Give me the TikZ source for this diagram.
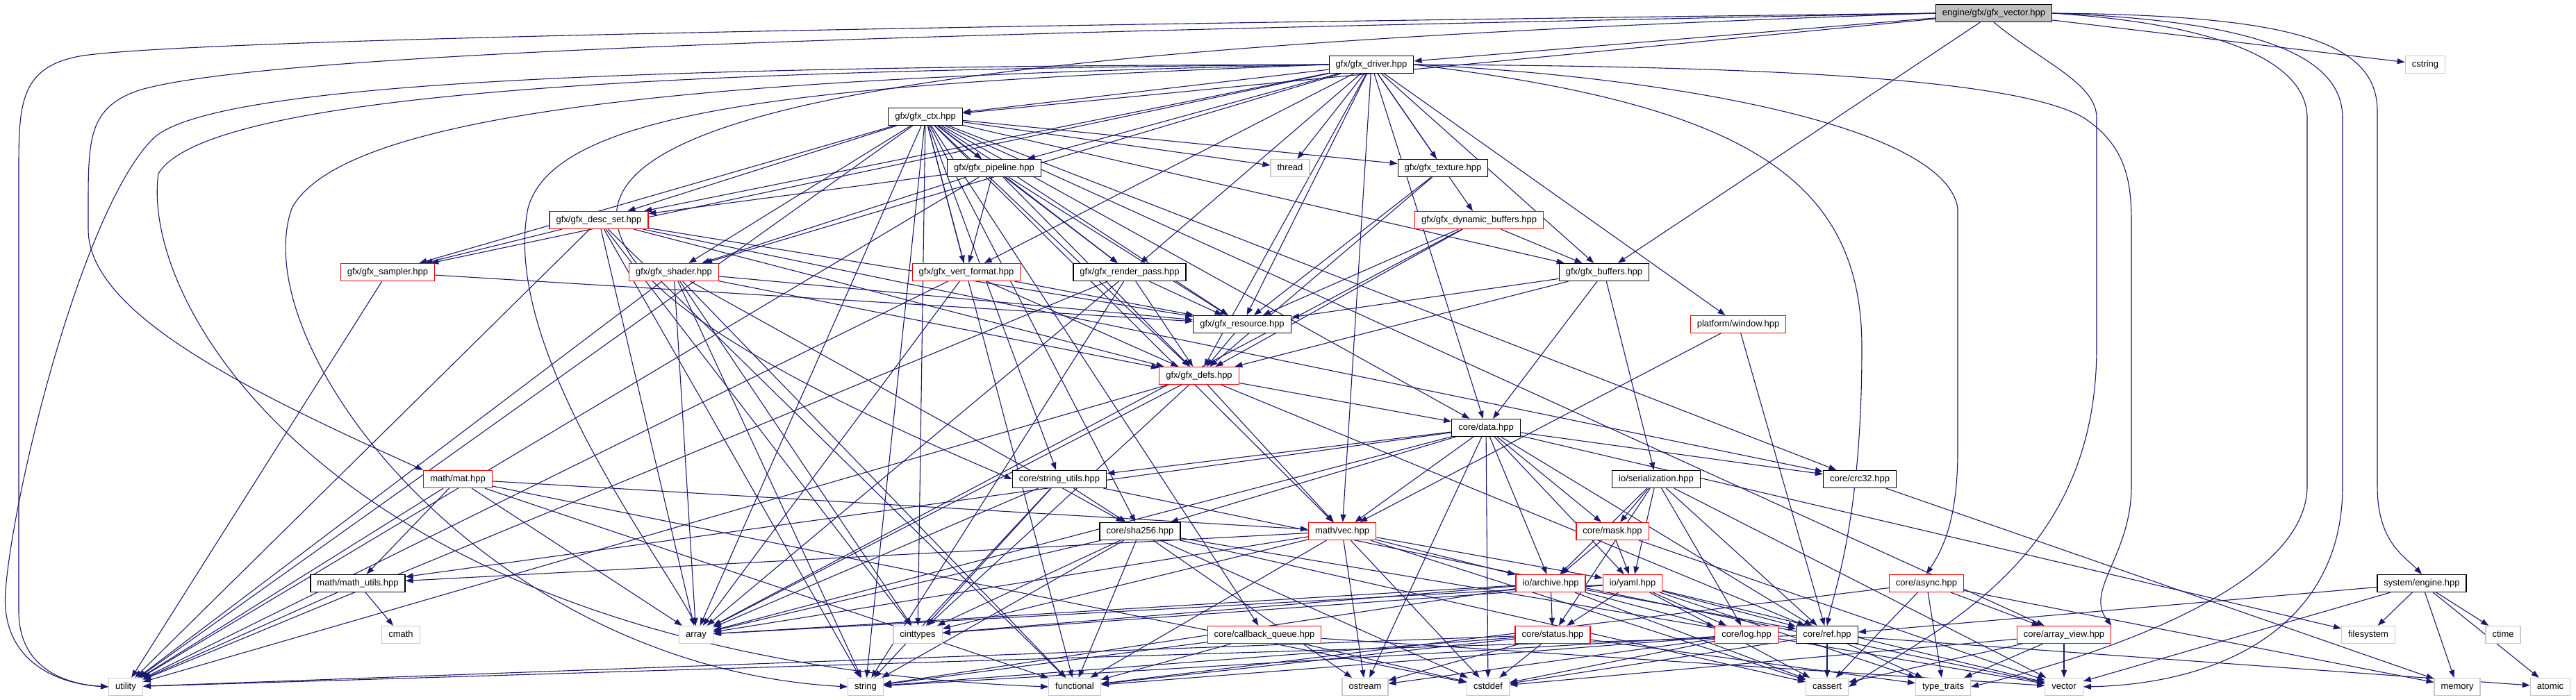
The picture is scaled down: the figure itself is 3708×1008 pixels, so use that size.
\documentclass[tikz,border=0pt]{standalone}
\usepackage{fontspec}
\setmainfont{Liberation Sans}
\usetikzlibrary{arrows.meta}
\definecolor{edgec}{HTML}{191970}
\definecolor{extb}{HTML}{C8C8C8}
\definecolor{rootf}{HTML}{BFBFBF}
\pgfdeclarelayer{edges}
\pgfsetlayers{edges,main}
\begin{document}
\begin{tikzpicture}[x=1pt,y=-1pt,
  font=\fontsize{13}{15}\selectfont,
  nb/.style={draw, line width=1.3pt, fill=white, inner xsep=9.5pt, inner ysep=0pt, minimum height=25pt, text height=9.5pt, text depth=3pt},
  bnode/.style={nb, draw=black},
  rnode/.style={nb, draw=red},
  gnode/.style={nb, draw=extb},
  rootnode/.style={nb, draw=black, fill=rootf},
  e/.style={draw=edgec, line width=1.1pt, -{Triangle[length=11pt,width=8pt]}}]
\useasboundingbox (0,0) rectangle (3708,1008);
% nodes
\node[rootnode] (vecroot) at (2870,19) {engine/gfx/gfx\_vector.hpp};
\node[bnode] (driver) at (1974,93) {gfx/gfx\_driver.hpp};
\node[gnode] (cstring) at (3491,93) {cstring};
\node[bnode] (ctx) at (1332,168) {gfx/gfx\_ctx.hpp};
\node[bnode] (pipeline) at (1431,242) {gfx/gfx\_pipeline.hpp};
\node[gnode] (thread) at (1857,242) {thread};
\node[bnode] (texture) at (2077,242) {gfx/gfx\_texture.hpp};
\node[rnode] (descset) at (862,317) {gfx/gfx\_desc\_set.hpp};
\node[rnode] (dynbuf) at (2129,317) {gfx/gfx\_dynamic\_buffers.hpp};
\node[rnode] (sampler) at (558,392) {gfx/gfx\_sampler.hpp};
\node[rnode] (shader) at (970,392) {gfx/gfx\_shader.hpp};
\node[rnode] (vertfmt) at (1391,392) {gfx/gfx\_vert\_format.hpp};
\node[bnode] (renderpass) at (1626,392) {gfx/gfx\_render\_pass.hpp};
\node[bnode] (buffers) at (2309,392) {gfx/gfx\_buffers.hpp};
\node[bnode] (resource) at (1788,467) {gfx/gfx\_resource.hpp};
\node[rnode] (window) at (2502,467) {platform/window.hpp};
\node[rnode] (defs) at (1726,541) {gfx/gfx\_defs.hpp};
\node[bnode] (data) at (2139,616) {core/data.hpp};
\node[rnode] (mat) at (659,690) {math/mat.hpp};
\node[bnode] (stringutils) at (1525,690) {core/string\_utils.hpp};
\node[bnode] (serialization) at (2384,690) {io/serialization.hpp};
\node[bnode] (crc32) at (2677,690) {core/crc32.hpp};
\node[bnode] (sha256) at (1641,765) {core/sha256.hpp};
\node[rnode] (mvec) at (1932,765) {math/vec.hpp};
\node[rnode] (mask) at (2321,765) {core/mask.hpp};
\node[bnode] (mathutils) at (515,840) {math/math\_utils.hpp};
\node[rnode] (archive) at (2232,840) {io/archive.hpp};
\node[rnode] (yaml) at (2350,840) {io/yaml.hpp};
\node[rnode] (async) at (2773,840) {core/async.hpp};
\node[bnode] (engine) at (3486,840) {system/engine.hpp};
\node[gnode] (cmath) at (577,914) {cmath};
\node[gnode] (array) at (1002,914) {array};
\node[gnode] (cinttypes) at (1321,914) {cinttypes};
\node[rnode] (callbackq) at (1820,914) {core/callback\_queue.hpp};
\node[rnode] (status) at (2235,914) {core/status.hpp};
\node[rnode] (log) at (2514,914) {core/log.hpp};
\node[bnode] (ref) at (2630,914) {core/ref.hpp};
\node[rnode] (arrayview) at (2971,914) {core/array\_view.hpp};
\node[gnode] (filesystem) at (3409,914) {filesystem};
\node[gnode] (ctime) at (3603,914) {ctime};
\node[gnode] (utility) at (181,989) {utility};
\node[gnode] (string) at (1246,989) {string};
\node[gnode] (functional) at (1547,989) {functional};
\node[gnode] (ostream) at (1965,989) {ostream};
\node[gnode] (cstddef) at (2142,989) {cstddef};
\node[gnode] (cassert) at (2630,989) {cassert};
\node[gnode] (typetraits) at (2797,989) {type\_traits};
\node[gnode] (vector) at (2971,989) {vector};
\node[gnode] (memory) at (3537,989) {memory};
\node[gnode] (atomic) at (3671,989) {atomic};
\begin{pgfonlayer}{edges}
% routed edges of the root
\draw[e] (vecroot.west) .. controls (1500,35) and (300,55) .. (120,80) .. controls (27,95) and (27,150) .. (27,250) -- (27,880) .. controls (27,960) and (90,985) .. (utility.west);
\draw[e] (vecroot.west) .. controls (1500,45) and (400,70) .. (200,130) .. controls (127,155) and (127,200) .. (127,300) -- (127,330) .. controls (127,450) and (350,560) .. (mat.north west);
\draw[e] (vecroot.east) .. controls (3300,22) and (3422,60) .. (3422,160) -- (3422,700) .. controls (3422,780) and (3460,800) .. (engine.north);
\draw[e] (vecroot.east) .. controls (3200,35) and (3321,90) .. (3321,170) -- (3321,700) .. controls (3321,850) and (3000,950) .. (typetraits.east);
\draw[e] (vecroot.east) .. controls (3250,30) and (3372,80) .. (3372,170) -- (3372,700) .. controls (3372,900) and (3200,985) .. (vector.east);
\draw[e] (vecroot.south) .. controls (2940,90) and (3018,120) .. (3018,170) -- (3018,500) .. controls (3018,800) and (2800,900) .. (cassert.east);
\draw[e] (vecroot) -- (cstring);
\draw[e] (vecroot) -- (driver);
\draw[e] (vecroot) -- (ctx);
\draw[e] (vecroot) -- (buffers);
\draw[e] (vecroot.west) .. controls (1000,80) and (300,200) .. (stringutils.west);
% routed edges of the driver
\draw[e] (driver.west) .. controls (900,95) and (300,120) .. (220,200) .. controls (120,300) and (20,700) .. (8,850) .. controls (0,950) and (80,985) .. (utility.west);
\draw[e] (driver.west) .. controls (1000,100) and (300,130) .. (228,250) .. controls (200,450) and (500,950) .. (functional.west);
\draw[e] (driver.west) .. controls (1100,110) and (500,150) .. (420,300) .. controls (350,500) and (700,960) .. (string.west);
\draw[e] (driver.west) .. controls (1200,120) and (800,150) .. (760,300) .. controls (720,500) and (950,800) .. (array.north);
\draw[e] (driver.east) .. controls (2500,150) and (2680,250) .. (2680,500) .. controls (2680,750) and (2640,850) .. (ref.north);
\draw[e] (driver.east) .. controls (2500,95) and (2900,110) .. (3000,170) .. controls (3060,210) and (3068,260) .. (3068,320) -- (3068,700) .. controls (3068,800) and (3000,850) .. (arrayview.north east);
\draw[e] (driver.east) .. controls (2400,110) and (2800,180) .. (2818,300) -- (2818,650) .. controls (2818,760) and (2790,800) .. (async.north);
\foreach \t in {ctx,pipeline,descset,sampler,shader,vertfmt,renderpass,texture,thread,dynbuf,buffers,resource,defs,window,data,mvec}
  \draw[e] (driver) -- (\t);
\foreach \t in {pipeline,descset,sampler,shader,vertfmt,renderpass,texture,thread,buffers,resource,defs,data,mvec,stringutils,sha256,callbackq,crc32,array,cinttypes,string,functional,utility,arrayview}
  \draw[e] (ctx) -- (\t);
\foreach \t in {descset,shader,vertfmt,renderpass,resource,defs,utility}
  \draw[e] (pipeline) -- (\t);
\foreach \t in {sampler,resource,defs,array,cinttypes,utility,string,crc32,functional}
  \draw[e] (descset) -- (\t);
\foreach \t in {resource,utility}
  \draw[e] (sampler) -- (\t);
\foreach \t in {resource,defs,array,cinttypes,functional,string,utility,sha256}
  \draw[e] (shader) -- (\t);
\foreach \t in {resource,defs,array,utility}
  \draw[e] (vertfmt) -- (\t);
\foreach \t in {resource,defs,array,utility,string}
  \draw[e] (renderpass) -- (\t);
\foreach \t in {resource,defs}
  \draw[e] (texture) -- (\t);
\foreach \t in {buffers,resource,defs,array}
  \draw[e] (dynbuf) -- (\t);
\foreach \t in {resource,defs,data,serialization}
  \draw[e] (buffers) -- (\t);
\draw[e] (resource) -- (defs);
\foreach \t in {data,mvec,array,cinttypes,ref,utility}
  \draw[e] (defs) -- (\t);
\foreach \t in {mvec,ref}
  \draw[e] (window) -- (\t);
\foreach \t in {stringutils,sha256,mvec,archive,yaml,mask,cstddef,ostream,crc32,filesystem,ref,mathutils,array}
  \draw[e] (data) -- (\t);
\foreach \t in {mathutils,mvec,array,functional,utility,cstddef}
  \draw[e] (mat) -- (\t);
\foreach \t in {sha256,cinttypes,string,array,vector}
  \draw[e] (stringutils) -- (\t);
\foreach \t in {array,cinttypes,string,functional,cstddef,ostream,vector,cassert}
  \draw[e] (sha256) -- (\t);
\foreach \t in {mathutils,archive,yaml,functional,ostream,cstddef,cassert,array,cinttypes}
  \draw[e] (mvec) -- (\t);
\foreach \t in {archive,yaml,mask,status,log,ref,vector}
  \draw[e] (serialization) -- (\t);
\foreach \t in {archive,yaml,vector}
  \draw[e] (mask) -- (\t);
\foreach \t in {status,array,cinttypes,string,log,ref,cassert}
  \draw[e] (archive) -- (\t);
\foreach \t in {status,log,ref,cassert,array,cinttypes,vector,typetraits}
  \draw[e] (yaml) -- (\t);
\foreach \t in {ostream,cstddef,string,functional,utility,typetraits}
  \draw[e] (status) -- (\t);
\foreach \t in {cstddef,string,functional,ostream}
  \draw[e] (log) -- (\t);
\foreach \t in {cassert,typetraits,cstddef,utility,atomic}
  \draw[e] (ref) -- (\t);
\foreach \t in {functional,cstddef,vector,string}
  \draw[e] (callbackq) -- (\t);
\foreach \t in {arrayview,cassert,functional,typetraits,memory}
  \draw[e] (async) -- (\t);
\foreach \t in {vector,typetraits,cassert,cstddef}
  \draw[e] (arrayview) -- (\t);
\foreach \t in {filesystem,ctime,memory,atomic,vector,ref}
  \draw[e] (engine) -- (\t);
\draw[e] (crc32) -- (memory);
\foreach \t in {cmath,utility}
  \draw[e] (mathutils) -- (\t);
\end{pgfonlayer}
\end{tikzpicture}
\end{document}
